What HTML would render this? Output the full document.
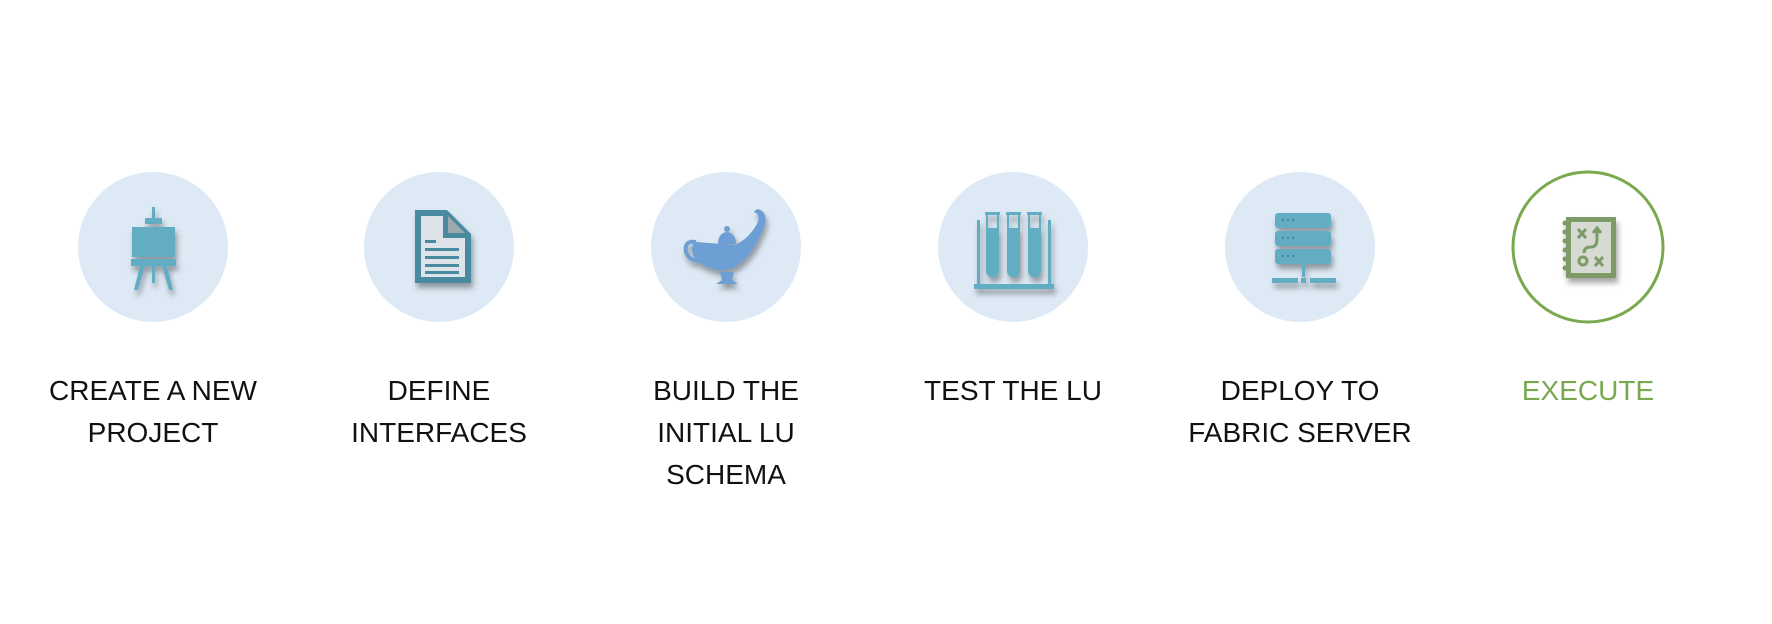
<!DOCTYPE html>
<html><head><meta charset="utf-8"><style>
body{margin:0;background:#fff;width:1772px;height:624px;overflow:hidden}
.t{position:absolute;width:300px;text-align:center;font-family:"Liberation Sans",sans-serif;font-size:28px;line-height:42px;color:#111}
</style></head><body>
<svg width="1772" height="624" style="position:absolute;left:0;top:0">
<defs><filter id="s" x="-30%" y="-30%" width="160%" height="160%"><feDropShadow dx="2" dy="5" stdDeviation="3" flood-color="#000" flood-opacity="0.35"/></filter></defs>
<g fill="#dde9f4">
<circle cx="153" cy="247" r="75"/><circle cx="439" cy="247" r="75"/><circle cx="726" cy="247" r="75"/>
<circle cx="1013" cy="247" r="75"/><circle cx="1300" cy="247" r="75"/>
</g>
<circle cx="1588" cy="247" r="75" fill="#fff" stroke="#79a84f" stroke-width="3"/>
<!-- easel -->
<g fill="#62adc4" filter="url(#s)">
<rect x="152" y="207" width="3" height="12"/><rect x="145" y="218" width="17" height="6"/>
<rect x="132" y="227" width="43" height="30"/><rect x="131" y="259" width="45" height="7"/>
<polygon points="140,266 145,266 138,290 134,290"/><polygon points="162,266 167,266 173,290 169,290"/>
<rect x="152" y="266" width="3" height="17"/>
</g>
<!-- document -->
<g filter="url(#s)">
<path d="M415,210 L447,210 L471,234 L471,283 L415,283 Z" fill="#4a8aa0"/>
<path d="M421,216 L443,216 L443,238 L465,238 L465,277 L421,277 Z" fill="#dde3e8"/>
<path d="M448,216 L465,233 L448,233 Z" fill="#9aa8b0"/>
<g fill="#4a8aa0"><rect x="425" y="240" width="11" height="3"/><rect x="425" y="248" width="34" height="3"/><rect x="425" y="256" width="34" height="3"/><rect x="425" y="264" width="34" height="3"/><rect x="425" y="271" width="34" height="3"/></g>
</g>
<!-- lamp -->
<g fill="#6d9ed4" filter="url(#s)">
<path d="M696,242 Q690,245 693,255 Q698,265 710,268 Q726,275 742,262 Q755,250 762,232 Q768,220 764,213 Q758,206 754,212 Q760,214 758,222 Q750,238 735,245 Z"/>
<path d="M718,244 Q718,233 727,232 Q736,233 736,244 Z"/><circle cx="727" cy="229" r="3"/>
<path d="M696,242 Q684,240 686,252 Q690,262 700,260" fill="none" stroke="#6d9ed4" stroke-width="4"/>
<path d="M720,272 L734,272 L732,280 L738,284 L716,284 L722,280 Z"/>
</g>
<!-- test tubes -->
<g fill="#62adc4" filter="url(#s)">
<rect x="974" y="284" width="80" height="5"/><rect x="977" y="220" width="3" height="64"/><rect x="1048" y="220" width="3" height="64"/>
<rect x="985" y="212" width="15" height="3"/><rect x="1006" y="212" width="15" height="3"/><rect x="1027" y="212" width="15" height="3"/>
<path d="M986,228 h13 v43 a6.5,6.5 0 0 1 -13,0z"/><path d="M1007,228 h13 v43 a6.5,6.5 0 0 1 -13,0z"/><path d="M1028,228 h13 v43 a6.5,6.5 0 0 1 -13,0z"/>
<rect x="986" y="215" width="2" height="13"/><rect x="997" y="215" width="2" height="13"/><rect x="1007" y="215" width="2" height="13"/><rect x="1018" y="215" width="2" height="13"/><rect x="1028" y="215" width="2" height="13"/><rect x="1039" y="215" width="2" height="13"/>
</g>
<!-- server -->
<g filter="url(#s)">
<g fill="#62adc4"><rect x="1275" y="213" width="56" height="15" rx="3"/><rect x="1275" y="231" width="56" height="15" rx="3"/><rect x="1275" y="249" width="56" height="15" rx="3"/>
<rect x="1302" y="264" width="3" height="13"/><rect x="1272" y="278" width="26" height="5"/><rect x="1301" y="278" width="5" height="5"/><rect x="1310" y="278" width="26" height="5"/></g>
<g fill="#3e8aa4"><circle cx="1283" cy="220" r="1.2"/><circle cx="1288" cy="220" r="1.2"/><circle cx="1293" cy="220" r="1.2"/><circle cx="1283" cy="238" r="1.2"/><circle cx="1288" cy="238" r="1.2"/><circle cx="1293" cy="238" r="1.2"/><circle cx="1283" cy="256" r="1.2"/><circle cx="1288" cy="256" r="1.2"/><circle cx="1293" cy="256" r="1.2"/></g>
</g>
<!-- play board -->
<g filter="url(#s)">
<rect x="1566" y="217" width="50" height="61" fill="#7b9b66"/><rect x="1571" y="222" width="40" height="51" fill="#d6dad3"/>
<g fill="#7b9b66"><circle cx="1565" cy="223" r="2.5"/><circle cx="1565" cy="232" r="2.5"/><circle cx="1565" cy="241" r="2.5"/><circle cx="1565" cy="250" r="2.5"/><circle cx="1565" cy="259" r="2.5"/><circle cx="1565" cy="268" r="2.5"/></g>
<g stroke="#7b9b66" stroke-width="3" fill="none"><path d="M1578,229 l8,9 M1586,229 l-8,9 M1595,257 l8,9 M1603,257 l-8,9"/><circle cx="1583" cy="261" r="4"/><path d="M1584,253 q0,-6 7,-6 q6,0 6,-8 v-10 M1593,233 l4,-5 l4,5"/></g>
</g>
</svg>
<div class="t" style="left:3px;top:370px">CREATE A NEW<br>PROJECT</div>
<div class="t" style="left:289px;top:370px">DEFINE<br>INTERFACES</div>
<div class="t" style="left:576px;top:370px">BUILD THE<br>INITIAL LU<br>SCHEMA</div>
<div class="t" style="left:863px;top:370px">TEST THE LU</div>
<div class="t" style="left:1150px;top:370px">DEPLOY TO<br>FABRIC SERVER</div>
<div class="t" style="left:1438px;top:370px;color:#79a84f">EXECUTE</div>
</body></html>
